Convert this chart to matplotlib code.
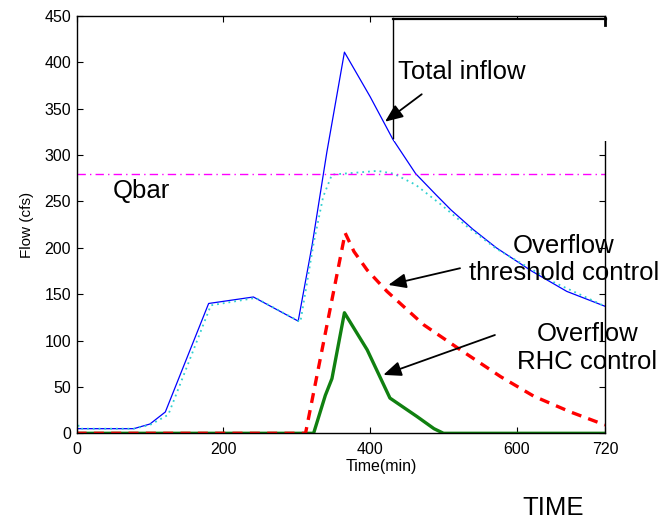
import matplotlib
matplotlib.use('Agg')
import matplotlib.pyplot as plt
from matplotlib.patches import Rectangle
from matplotlib.lines import Line2D

plt.rcParams['font.family'] = ['Liberation Sans', 'DejaVu Sans']

# total inflow (blue)
t_in = [0, 78, 100, 121, 180, 241, 302, 321, 341, 365, 400, 431, 462, 490, 510, 540, 572, 620, 668, 720]
q_in = [5, 5, 10, 23, 140, 147, 121, 203, 303, 411, 363, 317, 280, 257, 241, 220, 200, 175, 153, 137]

# outflow (cyan dotted)
t_out = [0, 4, 78, 100, 125, 183, 244, 305, 323, 336, 348, 380, 410, 432, 462, 496, 532, 572, 650, 720]
q_out = [15, 5, 5, 9, 20, 138, 146, 120, 205, 255, 279, 281, 283, 280, 268, 247, 223, 199, 163, 137]

# Qbar
qbar = 280

# overflow, threshold control (red dashed)
t_thr = [0, 312, 366, 378, 396, 423, 473, 523, 578, 623, 673, 720]
q_thr = [0, 0, 216, 196, 176, 153, 117, 90, 61, 40, 23, 9]

# overflow, RHC control (green)
t_rhc = [0, 323, 339, 348, 365, 396, 427, 464, 487, 500, 720]
q_rhc = [0, 0, 41, 59, 130, 90, 38, 18, 5, 0, 0]

xticks = [0, 200, 400, 600, 720]
yticks = [0, 50, 100, 150, 200, 250, 300, 350, 400, 450]

fig = plt.figure(figsize=(6.7, 5.19), dpi=100)
ax = fig.add_axes([0.1142, 0.1651, 0.7888, 0.8041])

ax.plot(t_in, q_in, color='#0000ff', lw=0.9)
ax.plot(t_out, q_out, color='#30d0d0', lw=1.3, linestyle=(0, (1, 2.2)))
ax.plot([0, 720], [qbar, qbar], color='#ff00ff', lw=1.0, linestyle=(0, (6, 3, 1, 3)))
ax.plot(t_rhc, q_rhc, color='#108010', lw=2.4)
ax.plot(t_thr, q_thr, color='#ff0000', lw=2.4, linestyle=(0, (3, 2.2)))

ax.set_xlim(0, 720)
ax.set_ylim(0, 450)
ax.set_xticks(xticks)
ax.set_yticks(yticks)
ax.tick_params(direction='in', top=True, right=True, length=4, width=0.8,
               labelsize=11.5, pad=6)
ax.tick_params(axis='y', pad=4)
for s in ax.spines.values():
    s.set_linewidth(1.0)

ax.set_xlabel('Time(min)', fontsize=11.5)
ax.xaxis.set_label_coords(0.5775, -0.062)
ax.set_ylabel('Flow (cfs)', fontsize=11)
ax.yaxis.set_label_coords(-0.080, 0.5)

# odd white box at the top right
def fx(px):
    return px / 670.0

def fy(py):
    return 1 - py / 519.0

ax.add_patch(Rectangle((fx(393.5), fy(141)), fx(610) - fx(393.5), fy(19) - fy(141),
                       transform=fig.transFigure, facecolor='white', edgecolor='none',
                       clip_on=False, zorder=2.6))
for xs, ys, w in [([393, 393], [18, 138], 1.0),
                  ([393, 605.5], [18.5, 18.5], 1.6),
                  ([604.5, 604.5], [18, 25], 2.0)]:
    ax.add_line(Line2D([fx(x) for x in xs], [fy(y) for y in ys], color='k', lw=w,
                       transform=fig.transFigure, clip_on=False, zorder=2.7))

arrow = dict(arrowstyle='-|>,head_length=0.6,head_width=0.25', color='k', lw=1.3,
             mutation_scale=18, shrinkA=0, shrinkB=0)

ax.text(88, 261.5, 'Qbar', fontsize=18.5, ha='center', va='center', zorder=4)

ax.text(525, 389.6, 'Total inflow', fontsize=18.5, ha='center', va='center', zorder=4)
ax.annotate('', xy=(420.3, 336), xytext=(470.3, 365.6), arrowprops=arrow,
            annotation_clip=False, zorder=4)

ax.text(664, 187.4, 'Overflow\nthreshold control', fontsize=18.5, ha='center',
        va='center', multialignment='center', zorder=4, clip_on=False)
ax.annotate('', xy=(424.8, 160), xytext=(522.5, 178), arrowprops=arrow,
            annotation_clip=False, zorder=4)

ax.text(696, 92, 'Overflow\nRHC control', fontsize=18.5, ha='center',
        va='center', multialignment='center', zorder=4, clip_on=False)
ax.annotate('', xy=(418, 63), xytext=(570, 106), arrowprops=arrow,
            annotation_clip=False, zorder=4)

fig.text(553 / 670, 1 - 508 / 519, 'TIME', fontsize=18.5, ha='center', va='center')

fig.savefig('out.png', dpi=100)
